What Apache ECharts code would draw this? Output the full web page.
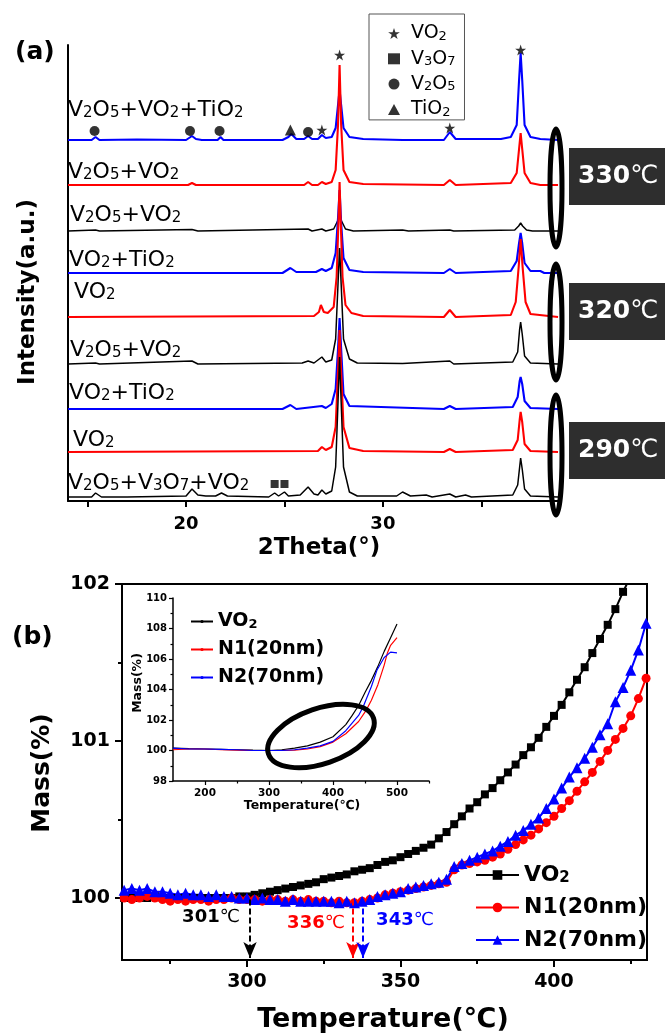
<!DOCTYPE html>
<html><head><meta charset="utf-8">
<script src="https://cdn.jsdelivr.net/npm/echarts@6/dist/echarts.min.js"></script>
<style>html,body{margin:0;padding:0;background:#fff}#c{width:665px;height:1035px}</style>
</head><body><div id="c"></div>
<script>
const FONT = 'DejaVu Sans';

// ================= Panel (a): XRD patterns =================
const xrdLabels = ['V2O5+VO2+TiO2','V2O5+VO2','V2O5+VO2','VO2+TiO2','VO2','V2O5+VO2','VO2+TiO2','VO2','V2O5+V3O7+VO2'];
const xrdColors = ['#0000ff','#ff0000','#000000','#0000ff','#ff0000','#000000','#0000ff','#ff0000','#000000'];
// vertical offset of each pattern (intensity units, a.u.)
const xrdOffsets = [361,316,270,228,184,137,92,49,4];
// [2theta, intensity above own baseline]
const xrd1 = [[14,0],[15.2,0],[15.4,3],[15.6,0],[17.5,0.5],[20.0,0],[20.3,4],[20.5,1],[20.8,0],[21.6,0],[21.75,3],[21.9,0],[24.9,0],[25.2,3],[25.35,6],[25.6,1],[26.0,1],[26.2,4],[26.4,1],[26.7,1],[26.9,5],[27.1,2],[27.4,3],[27.6,12],[27.72,35],[27.8,50],[27.88,35],[28.0,12],[28.3,3],[29,1],[31,0],[33.1,0],[33.4,8],[33.7,1],[36.0,1],[36.5,3],[36.8,15],[36.92,60],[37.0,87],[37.08,60],[37.2,15],[37.5,3],[38,1],[38.9,0]];
const xrd2 = [[14,0],[20.1,0],[20.3,2],[20.5,0],[26.0,0],[26.2,3],[26.4,0],[26.7,0],[26.9,3],[27.1,1],[27.4,3],[27.6,15],[27.72,60],[27.8,120],[27.88,60],[28.0,15],[28.3,3],[29,1],[33.1,0],[33.4,5],[33.7,0],[36.5,2],[36.8,12],[36.92,36],[37.0,52],[37.08,36],[37.2,12],[37.5,2],[38,0],[38.9,0]];
const xrd3 = [[14,0],[15.4,1],[15.6,0],[20.3,1.5],[20.6,0],[26.2,2],[26.4,0],[26.9,2],[27.1,0],[27.5,2],[27.7,10],[27.8,19],[27.9,10],[28.1,2],[28.5,0],[31,1],[31.3,0],[33.4,1],[33.6,0],[36.7,1],[36.9,5],[37.0,8],[37.1,5],[37.3,1],[37.6,0],[38.9,0]];
const xrd4 = [[14,0],[24.9,0],[25.3,5],[25.6,1],[26.6,1],[26.9,4],[27.1,2],[27.4,5],[27.6,20],[27.72,55],[27.8,83],[27.88,50],[28.0,15],[28.3,3],[29,1],[33.1,0],[33.4,4],[33.7,0],[36.5,2],[36.8,12],[36.92,30],[37.0,40],[37.08,30],[37.2,10],[37.5,2],[38.0,2],[38.2,0],[38.9,0]];
const xrd5 = [[14,0],[26.5,1],[26.75,5],[26.85,12],[27.0,5],[27.2,4],[27.5,10],[27.65,40],[27.75,100],[27.8,135],[27.85,100],[27.95,40],[28.1,12],[28.4,4],[29,1],[33.1,0],[33.4,7],[33.7,0],[36.5,2],[36.75,15],[36.9,50],[37.0,78],[37.1,50],[37.25,15],[37.5,3],[38.9,0]];
const xrd6 = [[14,0],[15.4,1],[15.6,0],[20.3,3],[20.6,0],[25.9,1],[26.2,3],[26.5,1],[26.9,7],[27.1,2],[27.4,4],[27.6,25],[27.72,80],[27.8,116],[27.88,80],[28.0,25],[28.3,5],[28.7,1],[31,0.5],[33.4,3],[33.6,0],[36.6,2],[36.85,12],[36.95,35],[37.0,42],[37.08,30],[37.2,8],[37.5,1],[38.9,0]];
const xrd7 = [[14,0],[24.9,0],[25.3,4],[25.6,0],[26.9,3],[27.1,1],[27.4,5],[27.6,20],[27.72,60],[27.8,91],[27.88,60],[28.0,15],[28.3,3],[33.1,0],[33.4,3],[33.7,0],[36.6,2],[36.85,12],[36.95,28],[37.0,32],[37.08,25],[37.2,8],[37.5,1],[38.9,0]];
const xrd8 = [[14,0],[26.7,1],[26.9,5],[27.1,2],[27.4,5],[27.6,25],[27.72,80],[27.8,122],[27.88,80],[28.0,25],[28.3,4],[29,1],[33.1,0],[33.4,3],[33.7,0],[36.6,2],[36.85,12],[36.95,32],[37.0,40],[37.08,30],[37.2,8],[37.5,1],[38.9,0]];
const xrd9 = [[14,0],[15.2,0],[15.4,4],[15.7,0],[17,0],[20.0,1],[20.3,8],[20.6,2],[21.0,1],[21.5,1],[21.8,4],[22.1,1],[24.2,0],[24.5,4],[24.7,1],[25.0,5],[25.2,1],[25.8,2],[26.2,10],[26.5,3],[26.7,2],[26.9,7],[27.1,3],[27.4,6],[27.6,30],[27.72,95],[27.8,140],[27.88,95],[28.0,30],[28.3,5],[28.7,1],[30.7,1],[31.0,5],[31.4,1],[32.2,2],[32.5,0],[33.4,3],[33.7,0],[34.2,2],[34.5,0],[36.6,2],[36.85,12],[36.95,30],[37.0,39],[37.08,28],[37.2,8],[37.5,1],[38.9,0]];
const xrdPatterns = [xrd1,xrd2,xrd3,xrd4,xrd5,xrd6,xrd7,xrd8,xrd9];
const xrdTicks = [15,20,25,30,35];
const xrdTickLabels = [20,30];
// phase markers [2theta, position in offset intensity units]
const markVO2 = [[27.8,446],[37.0,451],[26.9,371],[33.4,373]];
const markV3O7 = [[24.5,17],[25.0,17]];
const markV2O5 = [[15.35,370],[20.2,370],[21.7,370],[26.2,369]];
const markTiO2 = [[25.3,371]];
const tempGroups = ['330','320','290'];

// ================= Panel (b): TGA =================
const tgaT = [260,262.5,265,267.5,270,272.5,275,277.5,280,282.5,
  285,287.5,290,292.5,295,297.5,300,302.5,305,307.5,
  310,312.5,315,317.5,320,322.5,325,327.5,330,332.5,
  335,337.5,340,342.5,345,347.5,350,352.5,355,357.5,
  360,362.5,365,367.5,370,372.5,375,377.5,380,382.5,
  385,387.5,390,392.5,395,397.5,400,402.5,405,407.5,
  410,412.5,415,417.5,420,422.5,425,427.5,430];
const tgaVO2 = [100.00,100.01,100.00,100.00,100.01,100.00,100.00,100.00,100.00,100.00,
  100.00,100.00,100.00,100.00,100.00,100.01,100.01,100.02,100.03,100.04,
  100.05,100.06,100.07,100.08,100.09,100.10,100.12,100.13,100.14,100.15,
  100.17,100.18,100.19,100.21,100.23,100.24,100.26,100.28,100.30,100.32,
  100.34,100.38,100.42,100.47,100.52,100.57,100.61,100.66,100.70,100.75,
  100.80,100.85,100.91,100.96,101.02,101.09,101.16,101.23,101.31,101.39,
  101.47,101.56,101.65,101.74,101.84,101.95,102.05,null,null];
const tgaN1 = [100.00,99.99,100.00,100.01,100.00,99.99,99.98,99.99,99.98,99.99,
  99.99,99.98,99.99,99.99,100.00,99.99,99.99,99.99,99.98,99.99,
  99.99,99.98,99.99,99.98,99.99,99.98,99.98,99.97,99.98,99.97,
  99.97,99.98,99.99,100.00,100.02,100.03,100.04,100.05,100.06,100.07,
  100.08,100.09,100.10,100.18,100.21,100.22,100.23,100.24,100.26,100.28,
  100.31,100.34,100.37,100.40,100.44,100.48,100.52,100.57,100.62,100.68,
  100.74,100.80,100.87,100.94,101.01,101.08,101.16,101.27,101.40];
const tgaN2 = [100.05,100.06,100.05,100.06,100.04,100.04,100.03,100.02,100.03,100.02,
  100.02,100.01,100.02,100.01,100.01,100.00,100.00,99.99,100.00,99.99,
  99.99,99.98,99.99,99.98,99.98,99.98,99.98,99.98,99.97,99.98,
  99.97,99.98,99.99,100.01,100.02,100.03,100.04,100.06,100.07,100.08,
  100.09,100.10,100.12,100.20,100.22,100.24,100.26,100.28,100.30,100.33,
  100.36,100.40,100.43,100.47,100.51,100.57,100.63,100.70,100.77,100.83,
  100.89,100.96,101.04,101.11,101.25,101.34,101.45,101.58,101.75];
const tgaNames = ['VO2','N1(20nm)','N2(70nm)'];
const tgaColors = ['#000000','#ff0000','#0000ff'];
const tgaSymbols = ['rect','circle','triangle'];
const tgaXTicks = [300,350,400];
const tgaXMinor = [275,325,375,425];
const tgaYTicks = [100,101,102];
const tgaYMinor = [100.5,101.5];
const onsetArrowT = [301,334.5,337.8];
const onsetLabels = ['301','336','343'];
// inset (full range TGA)
const insetVO2 = [[150,100.15],[175,100.12],[200,100.1],[225,100.08],[250,100.05],[275,100.02],[300,100.0],[320,100.05],[340,100.15],[360,100.3],[380,100.55],[400,100.9],[420,101.7],[430,102.3],[440,102.95],[450,103.8],[460,104.6],[470,105.5],[480,106.5],[490,107.4],[500,108.3]];
const insetN1 = [[150,100.05],[175,100.1],[200,100.1],[225,100.05],[250,100.02],[275,100.0],[300,100.0],[320,100.0],[340,100.02],[360,100.1],[380,100.25],[400,100.55],[420,101.1],[440,101.9],[452,102.65],[460,103.3],[470,104.3],[480,105.6],[485,106.4],[490,106.9],[500,107.4]];
const insetN2 = [[150,100.15],[175,100.1],[200,100.1],[225,100.08],[250,100.05],[275,100.0],[300,100.0],[320,100.0],[340,100.05],[360,100.15],[380,100.3],[400,100.6],[420,101.3],[440,102.3],[447,102.85],[460,104.2],[469,105.3],[480,106.1],[490,106.45],[500,106.4]];
const insetXTicks = [200,300,400,500];
const insetXMinor = [250,350,450,550];
const insetYMinor = [99,101,103,105,107,109];

// ---------- helpers ----------
function chem(s){ return s.replace(/(\d)/g,'{s|$1}'); }
const legendText = {mVO2:'VO2',mV3O7:'V3O7',mV2O5:'V2O5',mTiO2:'TiO2',iVO2:'VO2',iN1:'N1(20nm)',iN2:'N2(70nm)','VO2':'VO2','N1(20nm)':'N1(20nm)','N2(70nm)':'N2(70nm)'};
function legendFmt(n){ const t = legendText[n]||n; return /^N\d/.test(t) ? t : chem(t); }
const STAR = 'path://M50 0 L61.8 35.1 L98.9 35.1 L68.8 56.9 L80.3 92.1 L50 70.4 L19.7 92.1 L31.2 56.9 L1.1 35.1 L38.2 35.1 Z';
const black = '#000';

const series = [];
xrdPatterns.forEach((p,i)=>{
  series.push({type:'line', name:'xrd'+i, xAxisIndex:0, yAxisIndex:0, symbol:'none', silent:true,
    data:p.map(d=>[d[0], d[1]+xrdOffsets[i]]),
    lineStyle:{color:xrdColors[i], width: xrdColors[i]==='#000000'?1.5:2.1}, z:2});
});
[['mVO2',markVO2,STAR,11],['mV3O7',markV3O7,'rect',8],['mV2O5',markV2O5,'circle',10],['mTiO2',markTiO2,'triangle',11]].forEach(m=>{
  series.push({type:'scatter', name:m[0], xAxisIndex:0, yAxisIndex:0, data:m[1], symbol:m[2], symbolSize:m[3],
    itemStyle:{color:black}, z:5, silent:true});
});
const tgaVals = [tgaVO2,tgaN1,tgaN2];
tgaNames.forEach((n,i)=>{
  series.push({type:'line', name:n, xAxisIndex:1, yAxisIndex:1, symbol:tgaSymbols[i],
    symbolSize: [8,9,11][i], showAllSymbol:true,
    data: tgaT.map((t,k)=>[t,tgaVals[i][k]]).filter(d=>d[1]!==null),
    lineStyle:{color:tgaColors[i], width:2}, itemStyle:{color:tgaColors[i]}, z:3, silent:true,
    markLine:{silent:true, symbol:['none','arrow'], symbolSize:[10,16], label:{show:false},
      lineStyle:{color:tgaColors[i], type:[6,3], width:2},
      data:[[{coord:[onsetArrowT[i],99.99]},{coord:[onsetArrowT[i],99.618]}]]}
  });
});
[['iVO2',insetVO2,'#000000'],['iN1',insetN1,'#ff0000'],['iN2',insetN2,'#0000ff']].forEach(s=>{
  series.push({type:'line', name:s[0], xAxisIndex:3, yAxisIndex:3, symbol:'circle', showSymbol:false, data:s[1],
    lineStyle:{color:s[2], width:1.2}, itemStyle:{color:s[2]}, z:3, silent:true});
});

const lbl = (size, extra)=>Object.assign({fontFamily:FONT, fontWeight:'bold', fontSize:size, color:black}, extra||{});
const tickLine = {color:black, width:2};

const graphic = [];
// sample labels
const labelY = [110,172,215,260,292,350,393,440,483];
const labelX = [68,68,70,69,74,70,69,73,68];
xrdLabels.forEach((t,i)=>{
  graphic.push({type:'text', x:labelX[i], y:labelY[i], z:50, style:{text:chem(t), fontFamily:FONT, fontSize:22, fill:black,
    textVerticalAlign:'middle', rich:{s:{fontFamily:FONT, fontSize:15, fill:black, verticalAlign:'bottom'}}}});
});
// temperature boxes and ellipses
const boxY = [148,283,422];
const ellCY = [188,322,455];
const ellRY = [59,58,60];
tempGroups.forEach((t,i)=>{
  graphic.push({type:'rect', z:40, shape:{x:569,y:boxY[i],width:100,height:57}, style:{fill:'#2e2e2e'}});
  graphic.push({type:'text', z:41, x:578, y:boxY[i]+28.5, style:{text:'{b|'+t+'}{n|℃}', textVerticalAlign:'middle',
    rich:{b:{fontFamily:FONT, fontWeight:'bold', fontSize:25, fill:'#fff'}, n:{fontFamily:FONT, fontSize:25, fill:'#fff'}}}});
  graphic.push({type:'ellipse', z:42, shape:{cx:556, cy:ellCY[i], rx:6, ry:ellRY[i]}, style:{fill:'none', stroke:black, lineWidth:5}});
});
// panel letters and axis titles
graphic.push({type:'text', x:15, y:52, style:{text:'(a)', fontFamily:FONT, fontWeight:'bold', fontSize:25, fill:black, textVerticalAlign:'middle'}});
graphic.push({type:'text', x:12, y:637, style:{text:'(b)', fontFamily:FONT, fontWeight:'bold', fontSize:25, fill:black, textVerticalAlign:'middle'}});
graphic.push({type:'text', x:28, y:292, rotation:Math.PI/2, style:{text:'Intensity(a.u.)', fontFamily:FONT, fontWeight:'bold', fontSize:23, fill:black, textAlign:'center', textVerticalAlign:'middle'}});
graphic.push({type:'text', x:319, y:548, style:{text:'2Theta(°)', fontFamily:FONT, fontWeight:'bold', fontSize:23, fill:black, textAlign:'center', textVerticalAlign:'middle'}});
graphic.push({type:'text', x:42, y:773, rotation:Math.PI/2, style:{text:'Mass(%)', fontFamily:FONT, fontWeight:'bold', fontSize:25, fill:black, textAlign:'center', textVerticalAlign:'middle'}});
graphic.push({type:'text', x:383, y:1020, style:{text:'Temperature(℃)', fontFamily:FONT, fontWeight:'bold', fontSize:27, fill:black, textAlign:'center', textVerticalAlign:'middle'}});
graphic.push({type:'text', x:138, y:683, rotation:Math.PI/2, style:{text:'Mass(%)', fontFamily:FONT, fontWeight:'bold', fontSize:12.5, fill:black, textAlign:'center', textVerticalAlign:'middle'}});
graphic.push({type:'text', x:302, y:806, z:20, style:{text:'Temperature(℃)', fontFamily:FONT, fontWeight:'bold', fontSize:12.5, fill:black, textAlign:'center', textVerticalAlign:'middle'}});
// onset labels
const onsetPos = [[211,917],[316,923],[405,920]];
onsetLabels.forEach((t,i)=>{
  graphic.push({type:'text', x:onsetPos[i][0], y:onsetPos[i][1], style:{text:'{b|'+t+'}{n|℃}', textAlign:'center', textVerticalAlign:'middle',
    rich:{b:{fontFamily:FONT, fontWeight:'bold', fontSize:18, fill:tgaColors[i]}, n:{fontFamily:FONT, fontSize:18, fill:tgaColors[i]}}}});
});
// inset ellipse
graphic.push({type:'ellipse', x:321, y:736, rotation:0.33, z:60, shape:{cx:0, cy:0, rx:55.5, ry:27.5}, style:{fill:'none', stroke:black, lineWidth:5}});

const option = {
  animation:false,
  backgroundColor:'#fff',
  grid:[
    {left:68, top:45, width:492, height:456},
    {left:122, top:584, width:525, height:376, show:true, borderColor:black, borderWidth:2},
    {left:173, top:598, width:256, height:183}
  ],
  xAxis:[
    {gridIndex:0, type:'value', position:'bottom', min:14, max:39, axisLine:{onZero:false, lineStyle:tickLine},
      axisTick:{show:true, customValues:xrdTicks, length:6, lineStyle:tickLine},
      axisLabel:lbl(18,{customValues:xrdTickLabels, margin:14}), splitLine:{show:false}},
    {gridIndex:1, type:'value', position:'bottom', min:259.3, max:430.3, axisLine:{onZero:false, lineStyle:tickLine},
      axisTick:{show:true, customValues:tgaXTicks, length:7, lineStyle:tickLine},
      axisLabel:lbl(19,{customValues:tgaXTicks, margin:13}), splitLine:{show:false}},
    {gridIndex:1, type:'value', position:'bottom', offset:0, min:259.3, max:430.3, axisLine:{show:false, onZero:false},
      axisTick:{show:true, customValues:tgaXMinor, length:4, lineStyle:tickLine},
      axisLabel:{show:false}, splitLine:{show:false}},
    {gridIndex:2, type:'value', position:'bottom', min:150, max:550, axisLine:{onZero:false, lineStyle:{color:black,width:1.5}},
      axisTick:{show:true, customValues:insetXTicks, length:4, lineStyle:{color:black,width:1.2}},
      axisLabel:lbl(10.5,{customValues:insetXTicks, margin:7}), splitLine:{show:false}},
    {gridIndex:2, type:'value', position:'bottom', offset:0, min:150, max:550, axisLine:{show:false, onZero:false},
      axisTick:{show:true, customValues:insetXMinor, length:2.5, lineStyle:{color:black,width:1.2}},
      axisLabel:{show:false}, splitLine:{show:false}}
  ],
  yAxis:[
    {gridIndex:0, type:'value', position:'left', min:0, max:456, axisLine:{show:true, onZero:false, lineStyle:tickLine},
      axisTick:{show:false}, axisLabel:{show:false}, splitLine:{show:false}},
    {gridIndex:1, type:'value', position:'left', min:99.605, max:102, axisLine:{show:true, onZero:false, lineStyle:tickLine},
      axisTick:{show:true, customValues:tgaYTicks, length:7, lineStyle:tickLine},
      axisLabel:lbl(19,{customValues:tgaYTicks, margin:12}), splitLine:{show:false}},
    {gridIndex:1, type:'value', position:'left', offset:0, min:99.605, max:102, axisLine:{show:false, onZero:false},
      axisTick:{show:true, customValues:tgaYMinor, length:4, lineStyle:tickLine},
      axisLabel:{show:false}, splitLine:{show:false}},
    {gridIndex:2, type:'value', position:'left', min:98, max:110, interval:2, axisLine:{show:true, onZero:false, lineStyle:{color:black,width:1.5}},
      axisTick:{show:true, length:4, lineStyle:{color:black,width:1.2}},
      axisLabel:lbl(10,{margin:6}), splitLine:{show:false}},
    {gridIndex:2, type:'value', position:'left', offset:0, min:98, max:110, axisLine:{show:false, onZero:false},
      axisTick:{show:true, customValues:insetYMinor, length:2.5, lineStyle:{color:black,width:1.2}},
      axisLabel:{show:false}, splitLine:{show:false}}
  ],
  legend:[
    {data:['mVO2','mV3O7','mV2O5','mTiO2'], orient:'vertical', left:369, top:14, selectedMode:false,
      padding:[10,9,1,19], itemWidth:12, itemHeight:11, itemGap:6.3, borderColor:'#555', borderWidth:1,
      formatter:legendFmt,
      textStyle:{fontFamily:FONT, fontSize:19, color:black, lineHeight:19, padding:[0,0,0,6],
        rich:{s:{fontFamily:FONT, fontSize:13, color:black, verticalAlign:'bottom', lineHeight:19}}}},
    {data:tgaNames, orient:'vertical', left:475, top:864, selectedMode:false, padding:0,
      itemWidth:43, itemHeight:12, itemGap:10.5, formatter:legendFmt,
      textStyle:{fontFamily:FONT, fontWeight:'bold', fontSize:22, color:black, lineHeight:22,
        rich:{s:{fontFamily:FONT, fontWeight:'bold', fontSize:15, color:black, verticalAlign:'bottom', lineHeight:22}}}},
    {data:['iVO2','iN1','iN2'], orient:'vertical', left:190, top:612, selectedMode:false, padding:0,
      itemWidth:22, itemHeight:4, itemGap:9, formatter:legendFmt,
      textStyle:{fontFamily:FONT, fontWeight:'bold', fontSize:19, color:black, lineHeight:19,
        rich:{s:{fontFamily:FONT, fontWeight:'bold', fontSize:13, color:black, verticalAlign:'bottom', lineHeight:19}}}}
  ],
  series: series,
  graphic: graphic
};
const chart = echarts.init(document.getElementById('c'), null, {renderer:'canvas', width:665, height:1035});
chart.setOption(option);
</script>
</body></html>
